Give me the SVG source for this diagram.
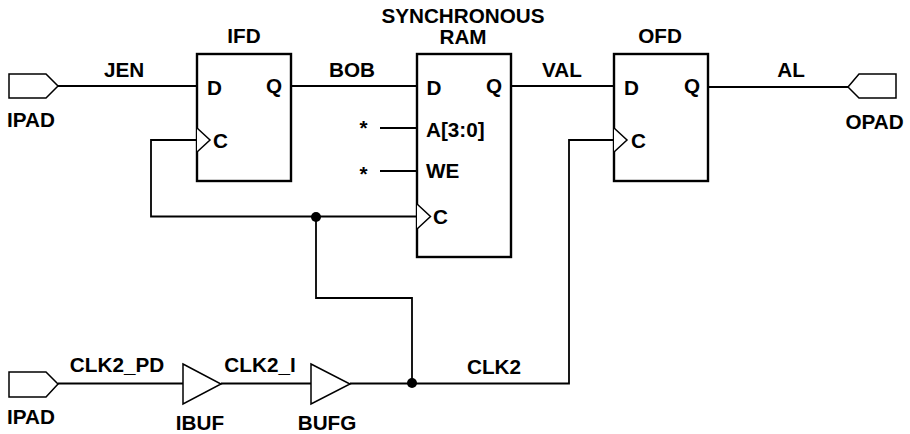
<svg xmlns="http://www.w3.org/2000/svg" width="910" height="434" viewBox="0 0 910 434">
<style>
text{font-family:"Liberation Sans",Arial,sans-serif;font-weight:700;font-size:20.700px;fill:#000}
.m{text-anchor:middle}
.box{fill:#fff;stroke:#000;stroke-width:2.400}
.thin{fill:#fff;stroke:#000;stroke-width:1.500}
.w{fill:none;stroke:#000;stroke-width:1.800}
</style>
<rect width="910" height="434" fill="#fff"/>
<g id="connectors">
<path class="w" d="M58 86H197M291 86H417M511 86H614M708 87H848"/>
<path class="w" d="M380 128H417M380 171H417"/>
<path class="w" d="M197 140H151V216.500H417M316 216.500V298H412V383M58 383.500H183M221 383.500H311M350 383.500H569V140H614"/>
<circle cx="316" cy="217" r="5"/>
<circle cx="412" cy="383" r="5"/>
</g>
<g id="ipad1"><path class="thin" d="M9 74H46L58 86L46 98H9Z"/><text x="31" y="127" class="m">IPAD</text></g>
<g id="ifd"><rect class="box" x="197" y="54" width="94" height="127"/><path class="thin" d="M197 128L210 140L197 152"/><text x="207" y="95">D</text><text x="266" y="93">Q</text><text x="213" y="148">C</text><text x="244" y="43" class="m">IFD</text></g>
<g id="ram"><rect class="box" x="417" y="54" width="94" height="203"/><path class="thin" d="M417 204L430.500 216.500L417 229"/><text x="463" y="23" class="m">SYNCHRONOUS</text><text x="463" y="44" class="m">RAM</text><text x="426.500" y="95">D</text><text x="486" y="93">Q</text><text x="426" y="137">A[3:0]</text><text x="426" y="178">WE</text><text x="433" y="224">C</text></g>
<g id="ofd"><rect class="box" x="614" y="54" width="94" height="127"/><path class="thin" d="M614 128L627 140L614 152"/><text x="660" y="43" class="m">OFD</text><text x="624" y="95">D</text><text x="684" y="93">Q</text><text x="631" y="148">C</text></g>
<g id="opad"><path class="thin" d="M848 87L859 74H896V98H859Z"/><text x="874.500" y="129" class="m">OPAD</text></g>
<g id="ipad2"><path class="thin" d="M9 372H46L58 384L46 397H9Z"/><text x="31" y="424" class="m">IPAD</text></g>
<g id="ibuf"><path class="thin" d="M183 364L221 384L183 404Z"/><text x="200" y="430" class="m">IBUF</text></g>
<g id="bufg"><path class="thin" d="M311 364L350 384L311 404Z"/><text x="327" y="430" class="m">BUFG</text></g>
<g id="labels">
<text x="124" y="77" class="m">JEN</text><text x="352" y="77" class="m">BOB</text><text x="562" y="77" class="m">VAL</text><text x="791" y="77" class="m">AL</text>
<text x="117" y="372" class="m">CLK2_PD</text><text x="260" y="372" class="m">CLK2_I</text><text x="494" y="374" class="m">CLK2</text>
<text x="363.500" y="135" class="m">*</text><text x="363.500" y="181" class="m">*</text>
</g>
</svg>
